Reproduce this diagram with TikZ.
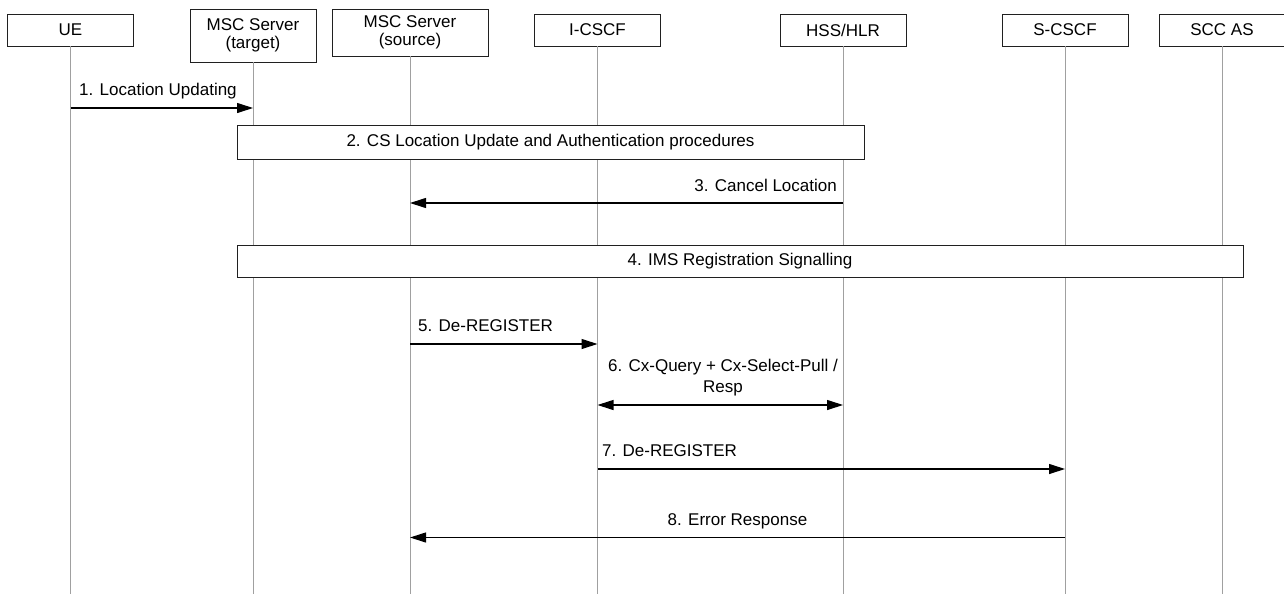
\documentclass[tikz,border=0pt]{standalone}
\usepackage{fontspec}
\setmainfont{Liberation Sans}
\usetikzlibrary{arrows.meta}
\definecolor{lifegray}{HTML}{A0A0A0}
\definecolor{boxline}{HTML}{202020}
\begin{document}
\begin{tikzpicture}[x=1pt,y=-1pt,
  txt/.style={font=\fontsize{17}{18}\selectfont},
  hdr/.style={txt, draw=boxline, line width=0.9pt, fill=white, inner sep=0pt,
    minimum width=126pt, minimum height=32pt, align=center},
  proc/.style={txt, draw=boxline, line width=0.9pt, fill=white, inner sep=0pt,
    minimum height=32pt},
  life/.style={draw=lifegray, line width=0.8pt},
  tip/.tip={Triangle[length=16pt,width=10pt]},
  msg/.style={draw=black, line width=1.1pt, -tip},
  dmsg/.style={draw=black, line width=1.1pt, tip-tip},
  lbl/.style={txt, inner sep=0pt}
]
\useasboundingbox (0,0) rectangle (1284,594);

% header boxes
\node[hdr] (ue)    at (70.5,30)  {UE};
\node[hdr, minimum height=53pt] (msct) at (253,35.5) {MSC Server\\(target)};
\node[hdr, minimum width=156pt, minimum height=47pt] (mscs) at (410,32.5) {MSC Server\\(source)};
\node[hdr] (icscf) at (597.5,30) {I-CSCF};
\node[hdr] (hss)   at (843,30)   {HSS/HLR};
\node[hdr] (scscf) at (1065,30)  {S-CSCF};
\node[hdr] (sccas) at (1222,30)  {SCC AS};

% bottom ends of lifelines
\coordinate (bot) at (0,594);
\foreach \n in {ue,msct,mscs,icscf,hss,scscf,sccas}
  \draw[life] (\n.south) -- (\n |- bot);

% y levels of messages
\coordinate (y1) at (0,108);
\coordinate (y3) at (0,203);
\coordinate (y5) at (0,344);
\coordinate (y6) at (0,405);
\coordinate (y7) at (0,469);
\coordinate (y8) at (0,537.5);

% 1
\draw[msg] (ue |- y1) -- (msct |- y1);
\node[lbl, anchor=base west] (l1) at (79,95.5) {1. Location Updating};

% 2
\node[proc, minimum width=627pt, minimum height=34pt] (p2) at (550.5,142)
  {2. CS Location Update and Authentication procedures};

% 3
\draw[msg] (hss |- y3) -- (mscs |- y3);
\node[lbl, anchor=base east] (l3) at (837,191) {3. Cancel Location};

% 4
\node[proc, minimum width=1006pt] (p4) at (740,261) {4. IMS Registration Signalling};

% 5
\draw[msg] (mscs |- y5) -- (icscf |- y5);
\node[lbl, anchor=base west] (l5) at (418,331.5) {5. De-REGISTER};

% 6
\draw[dmsg] (icscf |- y6) -- (hss |- y6);
\node[lbl, anchor=base, align=center] (l6) at (723,371.5) {6. Cx-Query + Cx-Select-Pull /};
\node[lbl, anchor=base] (l6b) at (723,392.5) {Resp};

% 7
\draw[msg] (icscf |- y7) -- (scscf |- y7);
\node[lbl, anchor=base west] (l7) at (602,456.5) {7. De-REGISTER};

% 8
\draw[msg] (scscf |- y8) -- (mscs |- y8);
\node[lbl, anchor=base] (l8) at (737.5,525) {8. Error Response};
\end{tikzpicture}
\end{document}
